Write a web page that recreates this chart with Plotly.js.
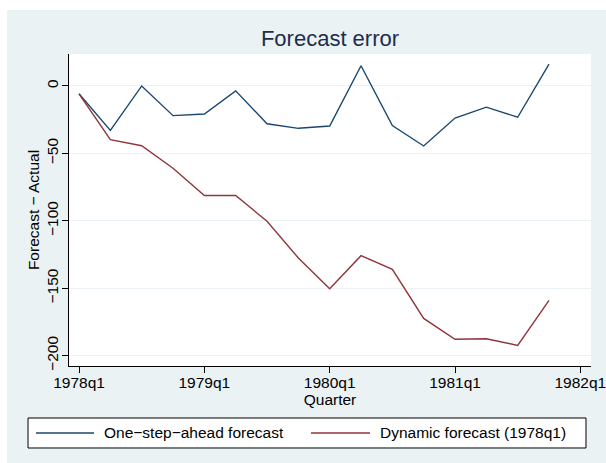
<!DOCTYPE html>
<html>
<head>
<meta charset="utf-8">
<script src="https://cdn.plot.ly/plotly-3.0.1.min.js"></script>
<style>
  html, body { margin: 0; padding: 0; background: #ffffff; }
  #chart { position: absolute; left: 7px; top: 10px; width: 599px; height: 453px; }
</style>
</head>
<body>
<div id="chart"></div>
<script>
// Quarter index: 0 = 1978q1 ... 15 = 1981q4
const quarters = [0, 1, 2, 3, 4, 5, 6, 7, 8, 9, 10, 11, 12, 13, 14, 15];
const oneStep = [-5.8, -33, 0, -22, -20.8, -3.6, -28, -31.4, -29.7, 15, -29.4, -44.5, -23.8, -15.7, -23.2, 16.2];
const dynamicFc = [-5.8, -39.8, -44.3, -61, -81.2, -81.2, -100.3, -127.5, -150.3, -125.8, -136, -172.3, -187.8, -187.4, -192.3, -159];
const xTickVals = [0, 4, 8, 12, 16];
const xTickText = ["1978q1", "1979q1", "1980q1", "1981q1", "1982q1"];
const yTickVals = [0, -50, -100, -150, -200];
const seriesNames = ["One\u2212step\u2212ahead forecast", "Dynamic forecast (1978q1)"];
const seriesColors = ["#1a476f", "#90353b"];

const font = "'Liberation Sans', Arial, Helvetica, sans-serif";

const traces = [
  { x: quarters, y: oneStep, name: seriesNames[0], type: "scatter", mode: "lines",
    line: { color: seriesColors[0], width: 1.4 } },
  { x: quarters, y: dynamicFc, name: seriesNames[1], type: "scatter", mode: "lines",
    line: { color: seriesColors[1], width: 1.4 } }
];

// Legend box (drawn in paper coordinates, below the plot area)
const legendBox = { x0: -0.0785, x1: 0.9904, y0: -0.2628, y1: -0.1667 };
const legendRowY = -0.2147;
const legendItems = [
  { lineX0: -0.0632, lineX1: 0.0479, textX: 0.0640 },
  { lineX0: 0.4636, lineX1: 0.5766, textX: 0.5910 }
];

const shapes = [
  { type: "rect", xref: "paper", yref: "paper",
    x0: legendBox.x0, x1: legendBox.x1, y0: legendBox.y0, y1: legendBox.y1,
    fillcolor: "#ffffff", line: { color: "#000000", width: 1 }, layer: "above" }
];
const annotations = [];
legendItems.forEach((it, i) => {
  shapes.push({ type: "line", xref: "paper", yref: "paper",
    x0: it.lineX0, x1: it.lineX1, y0: legendRowY, y1: legendRowY,
    line: { color: seriesColors[i], width: 1.4 }, layer: "above" });
  annotations.push({ xref: "paper", yref: "paper", x: it.textX, y: legendRowY,
    xanchor: "left", yanchor: "middle", showarrow: false, text: seriesNames[i],
    font: { family: font, size: 15.5, color: "#000000" } });
});

const layout = {
  width: 599, height: 453,
  paper_bgcolor: "#eaf2f3",
  plot_bgcolor: "#ffffff",
  font: { family: font, size: 15.5, color: "#000000" },
  margin: { l: 62, r: 15, t: 44, b: 97, pad: 0 },
  title: { text: "Forecast error", font: { family: font, size: 22, color: "#1e2d4e" },
           x: 0.5, xref: "paper", xanchor: "center", y: 1 - 28 / 453, yanchor: "middle" },
  xaxis: {
    range: [-0.32, 16.34], tickmode: "array", tickvals: xTickVals, ticktext: xTickText,
    showgrid: false, zeroline: false, showline: true, linecolor: "#000000", linewidth: 1,
    ticks: "outside", ticklen: 6, tickcolor: "#000000", tickwidth: 1,
    ticklabeloverflow: "allow", ticklabelstandoff: -4,
    tickfont: { family: font, size: 15.5, color: "#000000" },
    title: { text: "Quarter", font: { family: font, size: 15.5, color: "#000000" }, standoff: 0 },
    fixedrange: true
  },
  yaxis: {
    range: [-207.6, 23.7], tickmode: "array", tickvals: yTickVals,
    showgrid: true, gridcolor: "#eaf2f3", gridwidth: 1,
    zeroline: false, showline: true, linecolor: "#000000", linewidth: 1,
    ticks: "outside", ticklen: 6, tickcolor: "#000000", tickwidth: 1, tickangle: -90,
    ticklabelstandoff: -2,
    tickfont: { family: font, size: 15.5, color: "#000000" },
    title: { text: "Forecast \u2212 Actual", font: { family: font, size: 15.5, color: "#000000" }, standoff: 0 },
    fixedrange: true
  },
  showlegend: false,
  shapes: shapes,
  annotations: annotations
};

Plotly.newPlot("chart", traces, layout, { staticPlot: true, displayModeBar: false });
</script>
</body>
</html>
